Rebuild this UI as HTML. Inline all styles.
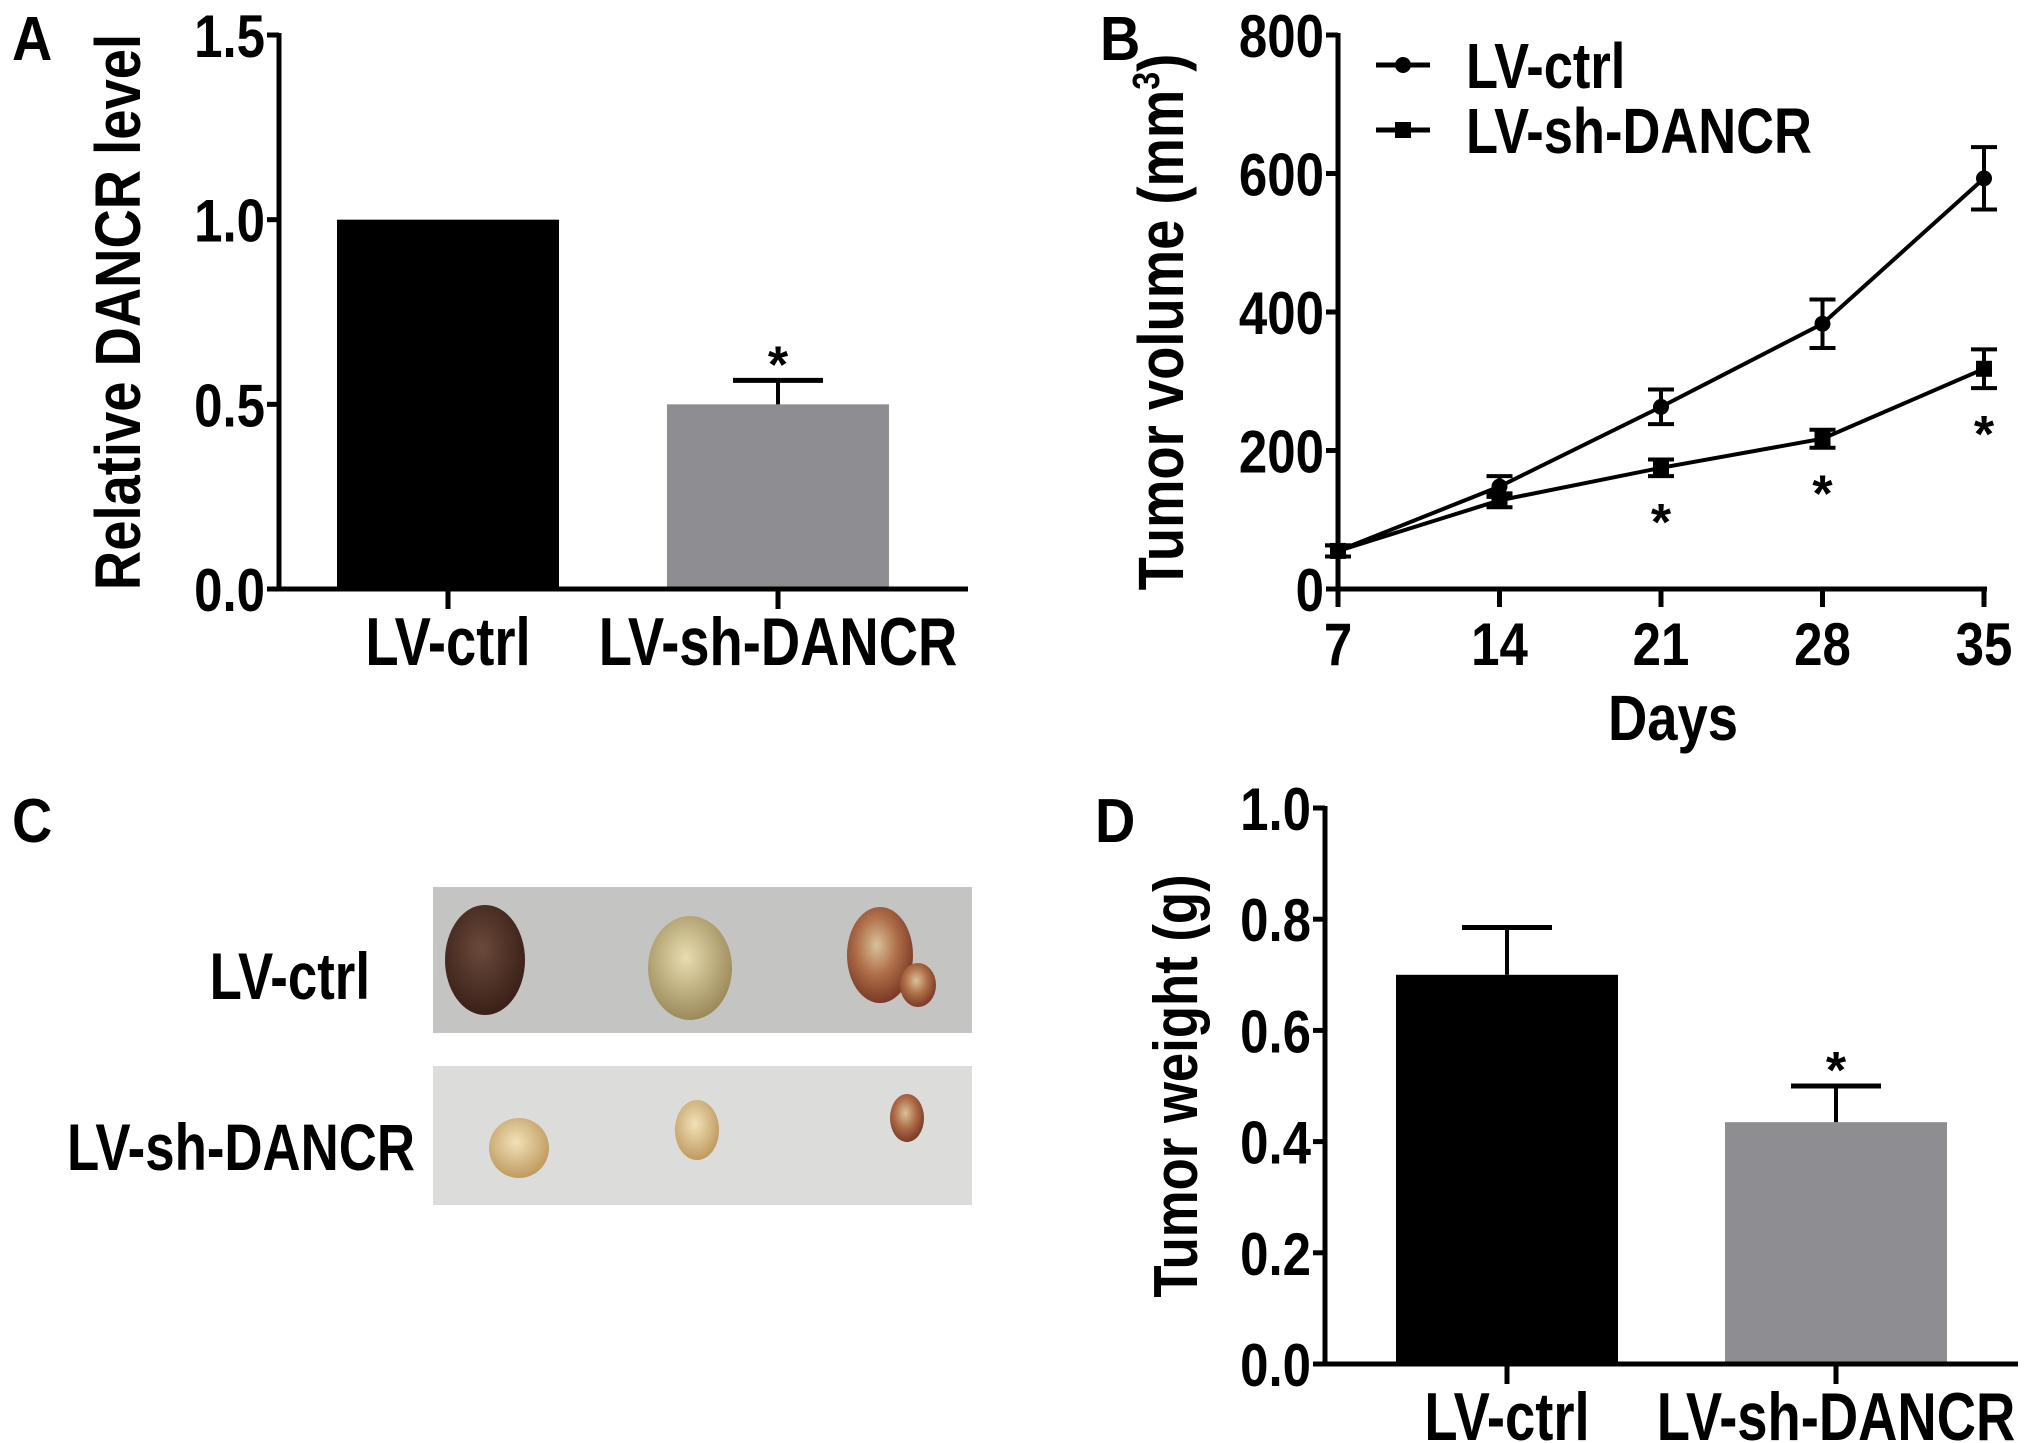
<!DOCTYPE html>
<html><head><meta charset="utf-8"><style>
html,body{margin:0;padding:0;background:#fff;}
svg{display:block;font-family:"Liberation Sans",Arial,sans-serif;font-weight:bold;}
</style></head><body>
<svg id="fig" width="2031" height="1443" viewBox="0 0 2031 1443" xmlns="http://www.w3.org/2000/svg">
<defs>
<radialGradient id="tDark" cx="45%" cy="40%" r="60%"><stop offset="0" stop-color="#6a4a3a"/><stop offset="1" stop-color="#3a2018"/></radialGradient>
<radialGradient id="tLight" cx="45%" cy="40%" r="60%"><stop offset="0" stop-color="#e8ddb0"/><stop offset="1" stop-color="#9c8a5a"/></radialGradient>
<radialGradient id="tRed" cx="45%" cy="40%" r="60%"><stop offset="0" stop-color="#d8c29a"/><stop offset="0.5" stop-color="#b0704a"/><stop offset="1" stop-color="#7a3a26"/></radialGradient>
<radialGradient id="tSmall" cx="45%" cy="40%" r="60%"><stop offset="0" stop-color="#f0e2b8"/><stop offset="1" stop-color="#c09a60"/></radialGradient>
</defs>
<g id="panelA"></g>
<g id="panelB"></g>
<g id="panelC">
  <rect x="433" y="887" width="539" height="146" fill="#c4c4c2"/>
  <ellipse cx="485" cy="960" rx="40" ry="55" fill="url(#tDark)"/>
  <ellipse cx="690" cy="968" rx="42" ry="52" fill="url(#tLight)"/>
  <ellipse cx="880" cy="955" rx="33" ry="48" fill="url(#tRed)"/>
  <ellipse cx="918" cy="985" rx="18" ry="22" fill="url(#tRed)"/>
  <rect x="433" y="1066" width="539" height="139" fill="#dcdcdb"/>
  <ellipse cx="519" cy="1148" rx="30" ry="30" fill="url(#tSmall)"/>
  <ellipse cx="697" cy="1130" rx="22" ry="30" fill="url(#tSmall)"/>
  <ellipse cx="907" cy="1118" rx="17" ry="24" fill="url(#tRed)"/>
</g>
<g id="panelD"></g>
</svg>
<script>
// Panel A data
const aCats = ["LV-ctrl", "LV-sh-DANCR"];
const aVals = [1.0, 0.5];
const aErr = [0, 0.065];
const aTicks = ["0.0", "0.5", "1.0", "1.5"];
// Panel B data
const bDays = [7, 14, 21, 28, 35];
const bCtrl = [55, 148, 263, 383, 593];
const bCtrlErr = [8, 15, 25, 35, 45];
const bSh = [55, 128, 175, 217, 318];
const bShErr = [8, 10, 12, 13, 28];
const bSig = [false, false, true, true, true];
const bYTicks = [0, 200, 400, 600, 800];
// Panel D data
const dCats = ["LV-ctrl", "LV-sh-DANCR"];
const dVals = [0.70, 0.435];
const dErr = [0.085, 0.065];
const dTicks = ["0.0", "0.2", "0.4", "0.6", "0.8", "1.0"];

const NS = "http://www.w3.org/2000/svg";
function mk(parent, tag, attrs, text) {
  const e = document.createElementNS(NS, tag);
  for (const k in attrs) e.setAttribute(k, attrs[k]);
  if (text !== undefined) e.textContent = text;
  parent.appendChild(e);
  return e;
}
function T(parent, x, y, size, anchor, txt, sx, rot) {
  const tr = `translate(${x},${y})` + (rot ? ` rotate(${rot})` : "") + ` scale(${sx},1)`;
  return mk(parent, "text", {x: 0, y: 0, "font-size": size, "text-anchor": anchor, transform: tr}, txt);
}
const SW = 5;
const TICK_F = 60, TICK_SX = 0.85, LAB_F = 68, LAB_SX = 0.8;

// panel C labels and letter
(function () {
  const g = document.getElementById("panelC");
  let t = T(g, 12, 842, 62, "start", "C", 0.9);
  
  
  t = T(g, 370, 999, 66, "end", "LV-ctrl", 0.8);
  
  
  t = T(g, 415, 1170, 66, "end", "LV-sh-DANCR", 0.8);
  
  
})();

function barPanel(g, cfg) {
  const y = v => cfg.y0 - (v - cfg.min) / (cfg.max - cfg.min) * (cfg.y0 - cfg.y1);
  let t = T(g, cfg.letterX, cfg.letterY, 62, "start", cfg.letter, 0.9);
  
  
  let ax = mk(g, "line", {x1: cfg.x0, y1: cfg.y1 - 2, x2: cfg.x0, y2: cfg.y0 + 2, stroke: "#000", "stroke-width": SW});
  
  
  cfg.ticks.forEach(tk => {
    const v = parseFloat(tk), yy = y(v);
    mk(g, "line", {x1: cfg.x0 - 12, y1: yy, x2: cfg.x0, y2: yy, stroke: "#000", "stroke-width": SW});
    const tl = T(g, cfg.x0 - 14, yy + 22, TICK_F, "end", tk, TICK_SX);
    
    
  });
  const yt = T(g, cfg.titleX, (cfg.y0 + cfg.y1) / 2, cfg.titleSize, "middle", cfg.title, 0.85, -90);
  
  
  cfg.cats.forEach((c, i) => {
    const cx = cfg.centers[i];
    const top = y(cfg.vals[i]);
    const b = mk(g, "rect", {x: cx - cfg.bw / 2, y: top, width: cfg.bw, height: cfg.y0 - top, fill: cfg.colors[i]});
    
    
    if (cfg.err[i] > 0) {
      const et = y(cfg.vals[i] + cfg.err[i]);
      mk(g, "line", {x1: cx, y1: top, x2: cx, y2: et, stroke: "#000", "stroke-width": 4});
      const cap = mk(g, "line", {x1: cx - 45, y1: et, x2: cx + 45, y2: et, stroke: "#000", "stroke-width": SW});
      
      
      if (cfg.star[i]) {
        const s = mk(g, "text", {x: cx, y: et + 2, "font-size": 52, "text-anchor": "middle"}, "*");
        
        
      }
    }
    mk(g, "line", {x1: cx, y1: cfg.y0, x2: cx, y2: cfg.y0 + 20, stroke: "#000", "stroke-width": SW});
    const xl = T(g, cx, cfg.y0 + 76, LAB_F, "middle", c, LAB_SX);
    
    
  });
  const xa = mk(g, "line", {x1: cfg.x0, y1: cfg.y0, x2: cfg.x2, y2: cfg.y0, stroke: "#000", "stroke-width": SW});
  
  
}

barPanel(document.getElementById("panelA"), {
  letter: "A", letterX: 12, letterY: 60, x0: 279, x2: 968, y0: 589, y1: 35, min: 0, max: 1.5,
  ticks: aTicks, cats: aCats, vals: aVals, err: aErr, star: [false, true],
  centers: [448, 778], bw: 222, colors: ["#000", "#8e8e92"],
  title: "Relative DANCR level", titleX: 140, titleSize: 64
});
barPanel(document.getElementById("panelD"), {
  letter: "D", letterX: 1095, letterY: 842, x0: 1325, x2: 2018, y0: 1364, y1: 808, min: 0, max: 1.0,
  ticks: dTicks, cats: dCats, vals: dVals, err: dErr, star: [false, true],
  centers: [1507, 1836], bw: 222, colors: ["#000", "#8e8e92"],
  title: "Tumor weight (g)", titleX: 1197, titleSize: 62
});

// Panel B
(function () {
  const g = document.getElementById("panelB");
  const x0 = 1338, xR = 1984, y0 = 589, y1 = 35;
  const x = d => x0 + (d - 7) / 28 * (xR - x0);
  const y = v => y0 - v / 800 * (y0 - y1);
  let t = T(g, 1100, 60, 62, "start", "B", 0.9);
  
  
  const ya = mk(g, "line", {x1: x0, y1: y1 - 2, x2: x0, y2: y0 + 2, stroke: "#000", "stroke-width": SW});
  
  
  bYTicks.forEach(v => {
    mk(g, "line", {x1: x0 - 12, y1: y(v), x2: x0, y2: y(v), stroke: "#000", "stroke-width": SW});
    const tl = T(g, x0 - 14, y(v) + 22, TICK_F, "end", String(v), TICK_SX);
    
    
  });
  const xa = mk(g, "line", {x1: x0, y1: y0, x2: xR + 3, y2: y0, stroke: "#000", "stroke-width": SW});
  
  
  bDays.forEach(d => {
    mk(g, "line", {x1: x(d), y1: y0, x2: x(d), y2: y0 + 18, stroke: "#000", "stroke-width": SW});
    const tl = T(g, x(d), y0 + 76, TICK_F, "middle", String(d), TICK_SX);
    
    
  });
  const xt = T(g, 1673, 740, 64, "middle", "Days", 0.85);
  
  
  const yt = T(g, 1183, 322, 64, "middle", "", 0.85, -90);
  
  
  yt.appendChild(document.createTextNode("Tumor volume (mm"));
  mk(yt, "tspan", {"font-size": 38, dy: -24}, "3");
  mk(yt, "tspan", {dy: 24}, ")");

  function series(vals, errs, marker, name) {
    const pts = bDays.map((d, i) => x(d) + "," + y(vals[i])).join(" ");
    const pl = mk(g, "polyline", {points: pts, fill: "none", stroke: "#000", "stroke-width": 4});
    
    
    bDays.forEach((d, i) => {
      const cx = x(d), cy = y(vals[i]), et = y(vals[i] + errs[i]), eb = y(vals[i] - errs[i]);
      mk(g, "line", {x1: cx, y1: et, x2: cx, y2: eb, stroke: "#000", "stroke-width": 4});
      mk(g, "line", {x1: cx - 13, y1: et, x2: cx + 13, y2: et, stroke: "#000", "stroke-width": 4});
      mk(g, "line", {x1: cx - 13, y1: eb, x2: cx + 13, y2: eb, stroke: "#000", "stroke-width": 4});
      let m;
      if (marker === "circle") m = mk(g, "circle", {cx: cx, cy: cy, r: 8, fill: "#000"});
      else m = mk(g, "rect", {x: cx - 8, y: cy - 8, width: 16, height: 16, fill: "#000"});
      
      
    });
  }
  series(bCtrl, bCtrlErr, "circle", "lv-ctrl");
  series(bSh, bShErr, "square", "lv-sh-dancr");
  bDays.forEach((d, i) => {
    if (!bSig[i]) return;
    const s = mk(g, "text", {x: x(d), y: y(bSh[i] - bShErr[i]) + 64, "font-size": 52, "text-anchor": "middle"}, "*");
    
    
  });
  // legend
  const l1 = mk(g, "g", {});
  
  
  mk(l1, "line", {x1: 1376, y1: 65, x2: 1430, y2: 65, stroke: "#000", "stroke-width": 5});
  mk(l1, "circle", {cx: 1403, cy: 65, r: 8, fill: "#000"});
  T(l1, 1466, 88, 64, "start", "LV-ctrl", 0.82);
  const l2 = mk(g, "g", {});
  
  
  mk(l2, "line", {x1: 1376, y1: 130, x2: 1430, y2: 130, stroke: "#000", "stroke-width": 5});
  mk(l2, "rect", {x: 1395, y: 122, width: 16, height: 16, fill: "#000"});
  T(l2, 1466, 153, 64, "start", "LV-sh-DANCR", 0.82);
})();
</script>
</body></html>
